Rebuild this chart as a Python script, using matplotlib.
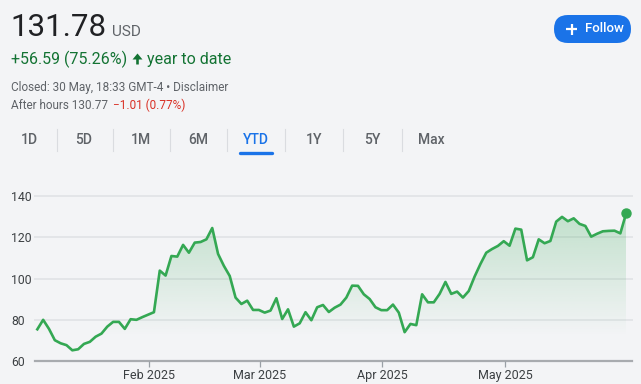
import numpy as np
import matplotlib
matplotlib.use("Agg")
import matplotlib.pyplot as plt
from matplotlib.patches import FancyBboxPatch, FancyArrow, Polygon

# YTD closing prices, one per trading day (2 Jan .. 30 May 2025)
closes = [
    75.4, 80.0, 75.6, 70.1, 68.6, 67.7, 65.2, 65.7, 68.3, 69.3,
    71.8, 73.3, 76.7, 79.0, 79.0, 75.6, 80.3, 80.0, 81.3, 82.5,
    83.7, 103.9, 101.5, 111.0, 110.7, 116.4, 112.6, 117.5, 117.8, 119.1,
    124.6, 112.0, 106.2, 101.3, 90.8, 87.7, 89.3, 84.8, 84.8, 83.5,
    84.5, 90.5, 80.4, 85.1, 76.7, 78.3, 83.7, 79.8, 86.1, 87.2,
    83.8, 85.9, 87.4, 90.8, 96.6, 96.5, 92.4, 90.1, 86.1, 84.7,
    84.7, 87.4, 83.5, 74.0, 78.0, 77.4, 92.4, 88.5, 88.5, 92.6,
    98.4, 92.6, 93.7, 90.8, 94.0, 101.0, 107.1, 112.6, 114.4, 115.9,
    118.2, 116.0, 124.3, 123.8, 108.9, 110.4, 119.1, 117.2, 118.3, 127.7,
    130.0, 127.9, 129.3, 126.6, 125.6, 120.4, 121.8, 123.0, 123.2, 123.3,
    122.0, 131.78,
]
month_labels = ["Feb 2025", "Mar 2025", "Apr 2025", "May 2025"]
month_first_idx = [20, 39, 60, 81]   # first trading day of each month
y_ticks = [60, 80, 100, 120, 140]
tabs = ["1D", "5D", "1M", "6M", "YTD", "1Y", "5Y", "Max"]

W, H = 641, 384
BG = "#f3f4f6"
GREEN = "#34a853"
plt.rcParams["font.family"] = ["Roboto", "DejaVu Sans"]

fig = plt.figure(figsize=(W / 100, H / 100), dpi=100, facecolor=BG)

# overlay in pixel coordinates for the header widgets
ov = fig.add_axes([0, 0, 1, 1])
ov.set_xlim(0, W)
ov.set_ylim(H, 0)
ov.axis("off")

# ---- header ----
ov.text(10, 36, "131.78", fontsize=22.5, color="#202124", va="baseline")
ov.text(112, 36, "USD", fontsize=11, color="#5f6368", va="baseline")
ov.text(11, 64, "+56.59 (75.26%)", fontsize=11.5, color="#137333", va="baseline")
ov.add_patch(FancyArrow(137.5, 64.5, 0, -11, width=2.6, head_width=10, head_length=6,
                        length_includes_head=True, color="#137333", lw=0))
ov.text(147, 64, "year to date", fontsize=11.5, color="#137333", va="baseline")
ov.text(11, 91, "Closed: 30 May, 18:33 GMT-4 \u2022 Disclaimer", fontsize=8.5,
        color="#5f6368", va="baseline")
ov.text(11, 109, "After hours 130.77", fontsize=8.5, color="#5f6368", va="baseline")
ov.text(113, 109, "\u22121.01 (0.77%)", fontsize=8.5, color="#d93025", va="baseline")

# follow button
ov.add_patch(FancyBboxPatch((554, 15), 77, 28, boxstyle="round,pad=0,rounding_size=14",
                            facecolor="#1a73e8", edgecolor="none"))
ov.plot([566, 577], [29, 29], color="white", lw=1.6, solid_capstyle="butt")
ov.plot([571.5, 571.5], [23.5, 34.5], color="white", lw=1.6, solid_capstyle="butt")
ov.text(585, 29, "Follow", fontsize=9.5, color="white", va="center", fontweight="medium")

# tabs
tab_x = [29, 84, 141, 198, 256, 314, 372, 431]
for i, (lab, x) in enumerate(zip(tabs, tab_x)):
    active = lab == "YTD"
    ov.text(x, 140, lab, fontsize=10, ha="center", va="center",
            color="#1a73e8" if active else "#5f6368", fontweight="medium")
    if i > 0:
        sx = (tab_x[i - 1] + x) / 2
        ov.plot([sx, sx], [129, 151], color="#dadce0", lw=0.8)
ov.plot([240, 272], [152.5, 152.5], color="#1a73e8", lw=2.4, solid_capstyle="round")

# ---- chart ----
ax = fig.add_axes([35 / W, 1 - 361 / H, (632 - 35) / W, (361 - 196.3) / H])
ax.set_facecolor("none")
x = np.arange(len(closes))
y = np.array(closes)
for s in ax.spines.values():
    s.set_visible(False)

for v in y_ticks[1:]:
    ax.axhline(v, color="#e3e5e8", lw=1.4, zorder=0, clip_on=False)
ax.axhline(60, color="#a8abaf", lw=1.6, zorder=1, clip_on=False)

# gradient fill under the line
poly_xy = np.vstack([np.column_stack([x, y]), [[x[-1], 60], [x[0], 60]]])
poly = Polygon(poly_xy, closed=True, facecolor="none", edgecolor="none")
ax.add_patch(poly)
grad = np.zeros((200, 2, 4))
grad[..., 0] = 52 / 255
grad[..., 1] = 168 / 255
grad[..., 2] = 83 / 255
alpha = np.clip((np.linspace(60, 135, 200) - 72) / (132 - 72), 0, 1) * 0.26
grad[..., 3] = alpha[:, None]
im = ax.imshow(grad, extent=[x[0], x[-1], 60, 135], origin="lower", aspect="auto", zorder=1)
im.set_clip_path(poly)
ax.set_xlim(-0.4, 102.0)
ax.set_ylim(60, 140)

ax.plot(x, y, color=GREEN, lw=1.9, zorder=3, solid_joinstyle="round")
ax.plot(x[-1], y[-1], "o", color=GREEN, ms=6.5, zorder=4, clip_on=False)

ax.set_xticks([i - 0.8 for i in month_first_idx], month_labels)
ax.tick_params(axis="x", length=4, width=0.9, color="#9aa0a6", pad=2,
               labelsize=9, labelcolor="#3c4043")
ax.set_yticks(y_ticks, [str(v) for v in y_ticks])
ax.tick_params(axis="y", length=0, pad=17.3, labelsize=8.8, labelcolor="#3c4043")
for t in ax.get_yticklabels():
    t.set_ha("left")

fig.savefig("out.png", dpi=100, facecolor=BG)
